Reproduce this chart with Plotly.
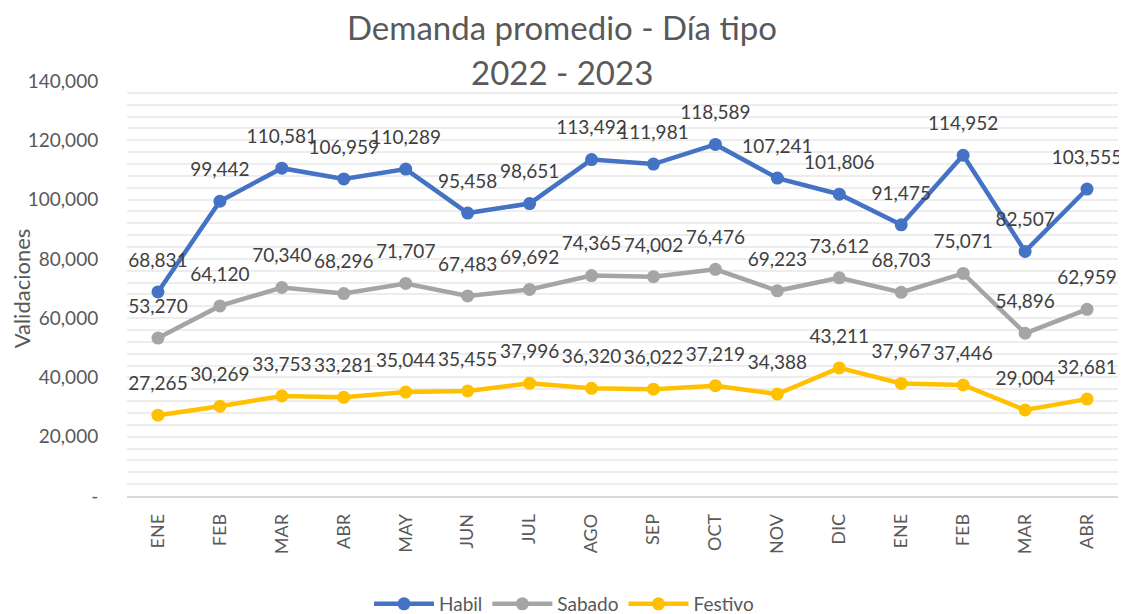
import plotly.graph_objects as go

months = ["ENE", "FEB", "MAR", "ABR", "MAY", "JUN", "JUL", "AGO", "SEP", "OCT", "NOV", "DIC",
          "ENE", "FEB", "MAR", "ABR"]
habil = [68831, 99442, 110581, 106959, 110289, 95458, 98651, 113492, 111981, 118589, 107241,
         101806, 91475, 114952, 82507, 103555]
sabado = [53270, 64120, 70340, 68296, 71707, 67483, 69692, 74365, 74002, 76476, 69223, 73612,
          68703, 75071, 54896, 62959]
festivo = [27265, 30269, 33753, 33281, 35044, 35455, 37996, 36320, 36022, 37219, 34388, 43211,
           37967, 37446, 29004, 32681]
y_ticks = [0, 20000, 40000, 60000, 80000, 100000, 120000, 140000]
y_tick_labels = ["-", "20,000", "40,000", "60,000", "80,000", "100,000", "120,000", "140,000"]

x = list(range(len(months)))
FONT = "Lato, 'Open Sans', sans-serif"
# page body has an 8px margin, so the figure is laid out 8px in from the top-left
W, H = 1119, 606
TOP, BOT, LEFT, RIGHT = 73, 118, 119, 9
PH = H - TOP - BOT

series = [("Habil", habil, "#4472C4"),
          ("Sabado", sabado, "#A5A5A5"),
          ("Festivo", festivo, "#FFC000")]

fig = go.Figure()
for name, vals, color in series:
    fig.add_trace(go.Scatter(
        x=x, y=vals, name=name, mode="lines+markers",
        line=dict(color=color, width=4.5),
        marker=dict(color=color, size=13),
        cliponaxis=False,
    ))
# data labels (drawn above the points, with Excel-like spacing)
for name, vals, color in series:
    fig.add_trace(go.Scatter(
        x=x, y=vals, mode="markers+text", showlegend=False, hoverinfo="skip",
        marker=dict(size=31, color="rgba(0,0,0,0)"),
        text=[f"{v:,}" for v in vals],
        textposition="top center",
        textfont=dict(family=FONT, size=19, color="#404040"),
        cliponaxis=False,
    ))

fig.update_layout(
    width=W, height=H,
    paper_bgcolor="white", plot_bgcolor="white",
    margin=dict(l=LEFT, r=RIGHT, t=TOP, b=BOT, autoexpand=False),
    title=dict(text="Demanda promedio - Día tipo",
               font=dict(family=FONT, size=33, color="#595959"),
               x=554 / W, xanchor="center", xref="container",
               y=1 - 20 / H, yanchor="middle", yref="container"),
    annotations=[dict(text="2022 - 2023", x=(554 - LEFT) / (W - LEFT - RIGHT), xref="paper",
                      xanchor="center",
                      y=(H - BOT - 64) / PH, yref="paper", yanchor="middle", showarrow=False,
                      font=dict(family=FONT, size=33, color="#595959"))],
    font=dict(family=FONT, color="#595959"),
    showlegend=True,
    legend=dict(orientation="h", x=(556 - LEFT) / (W - LEFT - RIGHT), xanchor="center",
                y=(H - BOT - 596) / PH, yanchor="middle",
                font=dict(family=FONT, size=19, color="#595959"),
                itemwidth=60, tracegroupgap=0),
    xaxis=dict(
        tickmode="array", tickvals=x, ticktext=months, tickangle=-90,
        range=[-0.5, len(months) - 0.5], automargin=False,
        showgrid=False, zeroline=False,
        showline=True, linecolor="#D9D9D9", linewidth=1.5,
        ticks="outside", ticklen=9, tickcolor="rgba(0,0,0,0)",
        tickfont=dict(family=FONT, size=18, color="#595959"),
    ),
    yaxis=dict(
        range=[0, 140000], automargin=False,
        tickmode="array", tickvals=y_ticks, ticktext=y_tick_labels,
        showgrid=True, gridcolor="#EDEDED", gridwidth=1.5,
        minor=dict(dtick=4000, tick0=0, showgrid=True, gridcolor="#EDEDED", gridwidth=1.5),
        zeroline=False,
        ticks="outside", ticklen=24, tickcolor="rgba(0,0,0,0)",
        tickfont=dict(family=FONT, size=19, color="#595959"),
        title=dict(text="Validaciones", font=dict(family=FONT, size=22, color="#595959"),
                   standoff=10),
    ),
)

fig.write_html("out.html")
